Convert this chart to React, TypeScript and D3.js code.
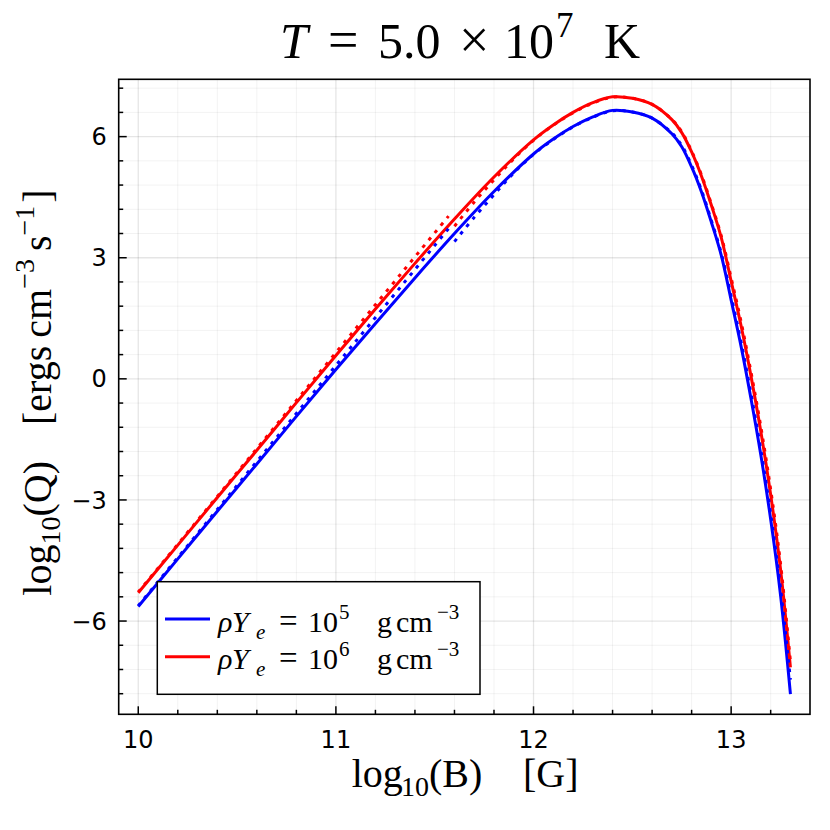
import React from "react";
import * as d3 from "d3";

// ---- data ----
const B_SOLID = [10.0, 10.2, 10.4, 10.6, 10.8, 11.0, 11.2, 11.4, 11.6, 11.8, 12.0, 12.1, 12.2, 12.3, 12.4, 12.5, 12.6, 12.7, 12.75, 12.8, 12.85, 12.9, 12.95, 13.0, 13.05, 13.1, 13.15, 13.2, 13.25, 13.3];
const Q_RED = [-5.3, -4.12, -2.94, -1.77, -0.59, 0.58, 1.73, 2.86, 3.96, 5.0, 5.92, 6.29, 6.6, 6.84, 6.985, 6.95, 6.8, 6.42, 6.1, 5.62, 5.02, 4.3, 3.5, 2.42, 1.32, 0.08, -1.3, -2.87, -4.72, -7.15];
const Q_BLUE = [-5.64, -4.46, -3.28, -2.11, -0.93, 0.23, 1.37, 2.5, 3.6, 4.64, 5.57, 5.94, 6.25, 6.49, 6.65, 6.61, 6.46, 6.07, 5.75, 5.25, 4.63, 3.88, 3.06, 1.95, 0.81, -0.48, -1.88, -3.48, -5.36, -7.81];

const B_LOW = [10.0, 10.5, 11.0, 11.57];
const Q_LOW_RED = [-5.28, -2.32, 0.65, 4.03];
const Q_LOW_BLUE = [-5.62, -2.64, 0.33, 3.72];

const B_HIGH = [11.6, 11.7, 11.8, 11.9, 12.0, 12.1, 12.2, 12.3, 12.4, 12.5, 12.6, 12.7, 12.75, 12.8, 12.85, 12.9, 12.95, 13.0, 13.05, 13.1, 13.15, 13.2, 13.25, 13.3];
const Q_HIGH_RED = [3.78, 4.38, 4.93, 5.45, 5.91, 6.28, 6.59, 6.83, 6.98, 6.95, 6.8, 6.43, 6.12, 5.64, 5.05, 4.33, 3.54, 2.5, 1.42, 0.18, -1.18, -2.74, -4.58, -7.0];
const Q_HIGH_BLUE = [3.4, 4.0, 4.56, 5.1, 5.56, 5.93, 6.24, 6.48, 6.64, 6.61, 6.46, 6.09, 5.78, 5.29, 4.67, 3.92, 3.11, 2.05, 0.92, -0.36, -1.75, -3.34, -5.2, -7.45];

const X_TICKS = [10, 11, 12, 13];
const Y_TICKS = [-6, -3, 0, 3, 6];
const X_DOMAIN = [9.901, 13.399];
const Y_DOMAIN = [-8.31, 7.42];

const LEGEND = [
  { exp: "5", color: "#0000ff" },
  { exp: "6", color: "#ff0000" },
];

const SERIF = "'Liberation Serif', 'Times New Roman', serif";
const SANS = "'DejaVu Sans', sans-serif";

export default function App() {
  const L = 118.7, R = 810, T = 79.3, Bt = 714.3;
  const x = d3.scaleLinear().domain(X_DOMAIN).range([L, R]);
  const y = d3.scaleLinear().domain(Y_DOMAIN).range([Bt, T]);

  const line = (bs: number[], qs: number[]) =>
    d3
      .line<number>()
      .x((_, i) => x(bs[i]))
      .y((q) => y(q))
      .curve(d3.curveCatmullRom.alpha(0.5))(qs) || "";

  const xMinor: number[] = [];
  for (let k = 0; k <= 20; k++) {
    const v = 10 + k * 0.2;
    if (v > X_DOMAIN[0] && v < X_DOMAIN[1] && Math.abs(v - Math.round(v)) > 1e-6) xMinor.push(v);
  }
  const yMinor: number[] = [];
  for (let k = -15; k <= 13; k++) {
    const v = k * 0.6;
    if (v > Y_DOMAIN[0] && v < Y_DOMAIN[1] && Math.abs(v / 3 - Math.round(v / 3)) > 1e-6) yMinor.push(v);
  }

  return (
    <svg
      width={830}
      height={830}
      style={{ position: "absolute", left: 0, top: 0, background: "#fff" }}
    >
      <rect x={0} y={0} width={830} height={830} fill="#fff" />
      {/* grid */}
      <g>
        {xMinor.map((v) => (
          <line key={"xm" + v} x1={x(v)} x2={x(v)} y1={T} y2={Bt} stroke="#000" strokeOpacity={0.05} strokeWidth={1} />
        ))}
        {yMinor.map((v) => (
          <line key={"ym" + v} x1={L} x2={R} y1={y(v)} y2={y(v)} stroke="#000" strokeOpacity={0.05} strokeWidth={1} />
        ))}
        {X_TICKS.map((v) => (
          <line key={"xg" + v} x1={x(v)} x2={x(v)} y1={T} y2={Bt} stroke="#000" strokeOpacity={0.1} strokeWidth={1.3} />
        ))}
        {Y_TICKS.map((v) => (
          <line key={"yg" + v} x1={L} x2={R} y1={y(v)} y2={y(v)} stroke="#000" strokeOpacity={0.1} strokeWidth={1.3} />
        ))}
      </g>
      {/* series */}
      <g fill="none" strokeWidth={3}>
        <path d={line(B_SOLID, Q_BLUE)} stroke="#0000ff" />
        <path d={line(B_SOLID, Q_RED)} stroke="#ff0000" />
        <path d={line(B_LOW, Q_LOW_BLUE)} stroke="#0000ff" strokeDasharray="3.5 6" />
        <path d={line(B_LOW, Q_LOW_RED)} stroke="#ff0000" strokeDasharray="3.5 6" />
        <path d={line(B_HIGH, Q_HIGH_BLUE)} stroke="#0000ff" strokeDasharray="3.5 6" />
        <path d={line(B_HIGH, Q_HIGH_RED)} stroke="#ff0000" strokeDasharray="3.5 6" />
      </g>
      {/* frame */}
      <rect x={L} y={T} width={R - L} height={Bt - T} fill="none" stroke="#000" strokeWidth={1.6} />
      {/* ticks */}
      <g stroke="#000" strokeWidth={1.5}>
        {X_TICKS.map((v) => (
          <line key={"xt" + v} x1={x(v)} x2={x(v)} y1={Bt} y2={Bt - 8} />
        ))}
        {xMinor.map((v) => (
          <line key={"xmt" + v} x1={x(v)} x2={x(v)} y1={Bt} y2={Bt - 4.5} />
        ))}
        {Y_TICKS.map((v) => (
          <line key={"yt" + v} x1={L} x2={L + 8} y1={y(v)} y2={y(v)} />
        ))}
        {yMinor.map((v) => (
          <line key={"ymt" + v} x1={L} x2={L + 4.5} y1={y(v)} y2={y(v)} />
        ))}
      </g>
      {/* tick labels */}
      <g fontFamily={SANS} fontSize={24} fill="#000">
        {X_TICKS.map((v) => (
          <text key={"xl" + v} x={x(v)} y={748.3} textAnchor="middle">
            {String(v)}
          </text>
        ))}
        {Y_TICKS.map((v) => (
          <text key={"yl" + v} x={106.7} y={y(v)} dy="0.36em" textAnchor="end">
            {v < 0 ? "\u2212" + Math.abs(v) : String(v)}
          </text>
        ))}
      </g>
      {/* legend */}
      <rect x={157.3} y={581.7} width={322.7} height={112.6} fill="#fff" stroke="#000" strokeWidth={1.5} />
      {LEGEND.map((d, i) => {
        const ly = 619 + i * 37.7;
        const bl = ly + 12.7;
        return (
          <g key={"lg" + i}>
            <line x1={165} x2={210} y1={ly} y2={ly} stroke={d.color} strokeWidth={3} />
            <text fontFamily={SERIF} fontSize={30} fill="#000" y={bl}>
              <tspan x={218} fontStyle="italic">ρ</tspan>
              <tspan x={232} fontStyle="italic">Y</tspan>
              <tspan x={256} fontStyle="italic" fontSize={21} dy={7}>e</tspan>
              <tspan x={279} dy={-7} fontSize={33}>=</tspan>
              <tspan x={308}>10</tspan>
              <tspan x={339} fontSize={21} dy={-13}>{d.exp}</tspan>
              <tspan x={377} dy={13}>g</tspan>
              <tspan x={396}>cm</tspan>
              <tspan x={437} fontSize={21} dy={-13}>{"\u22123"}</tspan>
            </text>
          </g>
        );
      })}
      {/* title */}
      <text fontFamily={SERIF} fontSize={50} fill="#000" y={58.3}>
        <tspan x={280} fontStyle="italic">T</tspan>
        <tspan x={328} fontSize={54}>=</tspan>
        <tspan x={378}>5.0</tspan>
        <tspan x={459} fontSize={54}>×</tspan>
        <tspan x={504}>10</tspan>
        <tspan x={556} fontSize={35} dy={-21}>7</tspan>
        <tspan x={604} dy={21}>K</tspan>
      </text>
      {/* x label */}
      <text fontFamily={SERIF} fontSize={40} fill="#000" y={787}>
        <tspan x={351.7}>log</tspan>
        <tspan x={401} fontSize={28} dy={9}>10</tspan>
        <tspan x={429} dy={-9}>(B)</tspan>
        <tspan x={523}>[G]</tspan>
      </text>
      {/* y label */}
      <text
        fontFamily={SERIF}
        fontSize={40}
        fill="#000"
        textAnchor="middle"
        transform={`translate(51, 392.5) rotate(-90)`}
      >
        <tspan>log</tspan>
        <tspan fontSize={28} dy={9}>10</tspan>
        <tspan dy={-9}>(Q)</tspan>
        <tspan dx={36}>[ergs</tspan>
        <tspan dx={8}>cm</tspan>
        <tspan fontSize={28} dy={-17}>{"\u22123"}</tspan>
        <tspan dx={8} dy={17}>s</tspan>
        <tspan fontSize={28} dy={-17}>{"\u22121"}</tspan>
        <tspan dx={3} dy={17}>]</tspan>
      </text>
    </svg>
  );
}
